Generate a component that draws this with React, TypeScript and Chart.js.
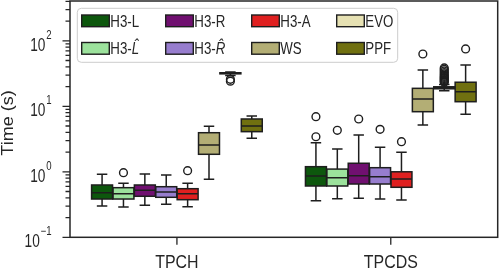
import React, { useEffect, useRef } from "react";
import { Chart, registerables } from "chart.js";

Chart.register(...registerables);

// ---------------- data ----------------
const categories = ["TPCH", "TPCDS"];
const seriesNames = ["H3-L", "H3-L\u0302", "H3-R", "H3-R\u0302", "H3-A", "WS", "EVO", "PPF"];
const seriesColors = ["#0d570d", "#9ce29c", "#701070", "#977dce", "#df2020", "#b3ae75", "#e6e1b3", "#707010"];

// per category: [lowWhisker, q1, median, q3, highWhisker]  (seconds)
const h3L = [[0.30, 0.384, 0.48, 0.629, 0.916], [0.362, 0.607, 0.863, 1.197, 2.78]];
const h3LHat = [[0.29, 0.384, 0.463, 0.572, 0.667], [0.388, 0.607, 0.813, 1.10, 2.23]];
const h3R = [[0.308, 0.423, 0.522, 0.629, 0.926], [0.394, 0.651, 0.872, 1.35, 3.65]];
const h3RHat = [[0.319, 0.408, 0.492, 0.592, 0.894], [0.384, 0.651, 0.842, 1.155, 2.37]];
const h3A = [[0.293, 0.375, 0.463, 0.552, 0.667], [0.371, 0.58, 0.776, 1.0, 1.98]];
const ws = [[0.768, 1.85, 2.57, 3.95, 4.95], [5.18, 8.27, 12.9, 18.8, 35.8]];
const evo = [[29.5, 31.3, 32.0, 32.5, 33.5], [17.2, 18.5, 19.15, 19.85, 21.5]];
const ppf = [[3.25, 4.1, 5.0, 6.4, 7.1], [7.55, 11.75, 16.7, 23.3, 42.7]];

// outliers per category
const h3LOut = [[], [3.43, 6.94]];
const h3LHatOut = [[0.969], [4.3]];
const h3ROut = [[], [6.4]];
const h3RHatOut = [[], [4.45]];
const h3AOut = [[1.04], [2.88]];
const wsOut = [[], [62.9]];
const evoOut = [[25.8, 24.2], [23.2, 24, 24.8, 25.6, 26.5, 27.5, 28.6, 29.8, 31.2, 32.8, 34.6, 36.6, 38.5]];
const ppfOut = [[], [75]];

const yMin = 0.1;
const yMax = 405;
const yTickExponents = [-1, 0, 1, 2];
const yTitle = "Time (s)";

const seriesStats = [h3L, h3LHat, h3R, h3RHat, h3A, ws, evo, ppf];
const seriesOutliers = [h3LOut, h3LHatOut, h3ROut, h3RHatOut, h3AOut, wsOut, evoOut, ppfOut];

// ---------------- styling ----------------
const GRAY = "#1e1e1e";
const AXIS = "#262626";
const FONT = "'Liberation Sans', Arial, Helvetica, sans-serif";

function drawText(
  ctx: CanvasRenderingContext2D,
  text: string,
  x: number,
  y: number,
  font: string,
  align: "left" | "right" | "center",
  hscale: number
): number {
  ctx.save();
  ctx.font = font;
  const w = ctx.measureText(text).width * hscale;
  const x0 = align === "center" ? x - w / 2 : align === "right" ? x - w : x;
  ctx.translate(x0, y);
  ctx.scale(hscale, 1);
  ctx.textAlign = "left";
  ctx.textBaseline = "alphabetic";
  ctx.fillStyle = AXIS;
  ctx.fillText(text, 0, 0);
  ctx.restore();
  return w;
}

const boxPlugin = {
  id: "boxDecor",
  afterDatasetsDraw(chart: any) {
    const ctx: CanvasRenderingContext2D = chart.ctx;
    const ys = chart.scales.y;
    ctx.save();
    ctx.strokeStyle = GRAY;
    ctx.lineWidth = 1.5;
    // box outlines
    seriesStats.forEach((stats, i) => {
      const meta = chart.getDatasetMeta(i);
      stats.forEach((s, j) => {
        const el = meta.data[j];
        const x = el.x;
        const w = el.width;
        const yQ1 = ys.getPixelForValue(s[1]);
        const yQ3 = ys.getPixelForValue(s[3]);
        ctx.strokeRect(x - w / 2, yQ3, w, yQ1 - yQ3);
      });
    });
    // whiskers, caps, medians, fliers
    seriesStats.forEach((stats, i) => {
      const meta = chart.getDatasetMeta(i);
      stats.forEach((s, j) => {
        const el = meta.data[j];
        const x = el.x;
        const w = el.width;
        const yLo = ys.getPixelForValue(s[0]);
        const yQ1 = ys.getPixelForValue(s[1]);
        const yMed = ys.getPixelForValue(s[2]);
        const yQ3 = ys.getPixelForValue(s[3]);
        const yHi = ys.getPixelForValue(s[4]);
        ctx.beginPath();
        ctx.moveTo(x, yQ1);
        ctx.lineTo(x, yLo);
        ctx.moveTo(x, yQ3);
        ctx.lineTo(x, yHi);
        ctx.moveTo(x - w / 4, yLo);
        ctx.lineTo(x + w / 4, yLo);
        ctx.moveTo(x - w / 4, yHi);
        ctx.lineTo(x + w / 4, yHi);
        ctx.moveTo(x - w / 2, yMed);
        ctx.lineTo(x + w / 2, yMed);
        ctx.stroke();
        ctx.lineWidth = 1.4;
        seriesOutliers[i][j].forEach((v) => {
          ctx.beginPath();
          ctx.arc(x, ys.getPixelForValue(v), 3.9, 0, Math.PI * 2);
          ctx.stroke();
        });
        ctx.lineWidth = 1.5;
      });
    });
    ctx.restore();
  },
  afterDraw(chart: any) {
    const ctx: CanvasRenderingContext2D = chart.ctx;
    const area = chart.chartArea;
    const ys = chart.scales.y;
    const xs = chart.scales.x;
    ctx.save();
    ctx.strokeStyle = AXIS;

    // y ticks (major + minor)
    ctx.lineWidth = 1.3;
    ctx.beginPath();
    yTickExponents.forEach((e) => {
      const base = Math.pow(10, e);
      const py = ys.getPixelForValue(base);
      ctx.moveTo(area.left - 7.5, py);
      ctx.lineTo(area.left, py);
      for (let k = 2; k <= 9; k++) {
        const v = k * base;
        if (v >= yMax) continue;
        const pm = ys.getPixelForValue(v);
        ctx.moveTo(area.left - 4.5, pm);
        ctx.lineTo(area.left, pm);
      }
    });
    // x ticks
    categories.forEach((_, j) => {
      const px = xs.getPixelForValue(j);
      ctx.moveTo(px, area.bottom);
      ctx.lineTo(px, area.bottom + 7.5);
    });
    ctx.stroke();

    // frame
    ctx.lineWidth = 1.5;
    ctx.strokeRect(area.left, area.top, area.right - area.left, area.bottom - area.top);

    // y tick labels 10^e
    const R = 51.5;
    yTickExponents.forEach((e) => {
      const py = ys.getPixelForValue(Math.pow(10, e));
      const expStr = e < 0 ? "\u2212" + Math.abs(e) : String(e);
      ctx.font = `12px ${FONT}`;
      const ew = ctx.measureText(expStr).width * 0.8;
      drawText(ctx, expStr, R - ew, py - 2, `12px ${FONT}`, "left", 0.8);
      drawText(ctx, "10", R - ew - 0.8, py + 10, `17.5px ${FONT}`, "right", 0.78);
    });

    // x tick labels
    categories.forEach((c, j) => {
      const px = xs.getPixelForValue(j);
      drawText(ctx, c, px, 267.5, `18px ${FONT}`, "center", 0.885);
    });

    // y title
    ctx.save();
    ctx.translate(13, 123);
    ctx.rotate(-Math.PI / 2);
    ctx.scale(1, 0.88);
    ctx.font = `18px ${FONT}`;
    ctx.fillStyle = AXIS;
    ctx.textAlign = "center";
    ctx.textBaseline = "alphabetic";
    ctx.fillText(yTitle, 0, 0);
    ctx.restore();

    // legend
    const lx = 77.3, ly = 8.3, lw = 320.4, lh = 54;
    ctx.beginPath();
    ctx.roundRect(lx, ly, lw, lh, 4);
    ctx.fillStyle = "rgba(255,255,255,0.85)";
    ctx.fill();
    ctx.strokeStyle = "#cccccc";
    ctx.lineWidth = 1;
    ctx.stroke();
    const colX = [81.7, 165.7, 251.7, 336.7];
    const rowCenter = [20.85, 48.35];
    seriesNames.forEach((name, k) => {
      const col = Math.floor(k / 2);
      const row = k % 2;
      const hx = colX[col];
      const hy = rowCenter[row] - 5.85;
      ctx.fillStyle = seriesColors[k];
      ctx.fillRect(hx, hy, 27.6, 11.7);
      ctx.strokeStyle = GRAY;
      ctx.lineWidth = 1.4;
      ctx.strokeRect(hx, hy, 27.6, 11.7);
      const tx = hx + 28.6;
      const by = rowCenter[row] + 5.8;
      if (name.includes("\u0302")) {
        const prefix = name.slice(0, 3);
        const rest = name.slice(3);
        const pw = drawText(ctx, prefix, tx, by, `16px ${FONT}`, "left", 0.83);
        drawText(ctx, rest, tx + pw, by, `italic 16px ${FONT}`, "left", 0.83);
      } else {
        drawText(ctx, name, tx, by, `16px ${FONT}`, "left", 0.83);
      }
    });
    ctx.restore();
  },
};

export default function App() {
  const ref = useRef<HTMLCanvasElement>(null);
  useEffect(() => {
    const canvas = ref.current;
    if (!canvas) return;
    const chart = new Chart(canvas, {
      type: "bar",
      data: {
        labels: categories,
        datasets: seriesNames.map((name, i) => ({
          label: name,
          data: seriesStats[i].map((s) => [s[1], s[3]] as [number, number]),
          backgroundColor: seriesColors[i],
          borderWidth: 0,
          barPercentage: 0.98,
          categoryPercentage: 0.8,
        })),
      },
      options: {
        responsive: false,
        animation: false,
        devicePixelRatio: 1,
        layout: { padding: { left: 70, right: 1.3, top: 1, bottom: 35.7 } },
        scales: {
          x: { type: "category", display: false, offset: true },
          y: { type: "logarithmic", display: false, min: yMin, max: yMax },
        },
        plugins: {
          legend: { display: false },
          tooltip: { enabled: false },
          title: { display: false },
        },
      },
      plugins: [boxPlugin],
    });
    return () => chart.destroy();
  }, []);
  return (
    <div style={{ position: "fixed", left: 0, top: 0, width: 499, height: 273, background: "#fff" }}>
      <canvas ref={ref} width={499} height={273} style={{ display: "block", width: 499, height: 273 }} />
    </div>
  );
}
